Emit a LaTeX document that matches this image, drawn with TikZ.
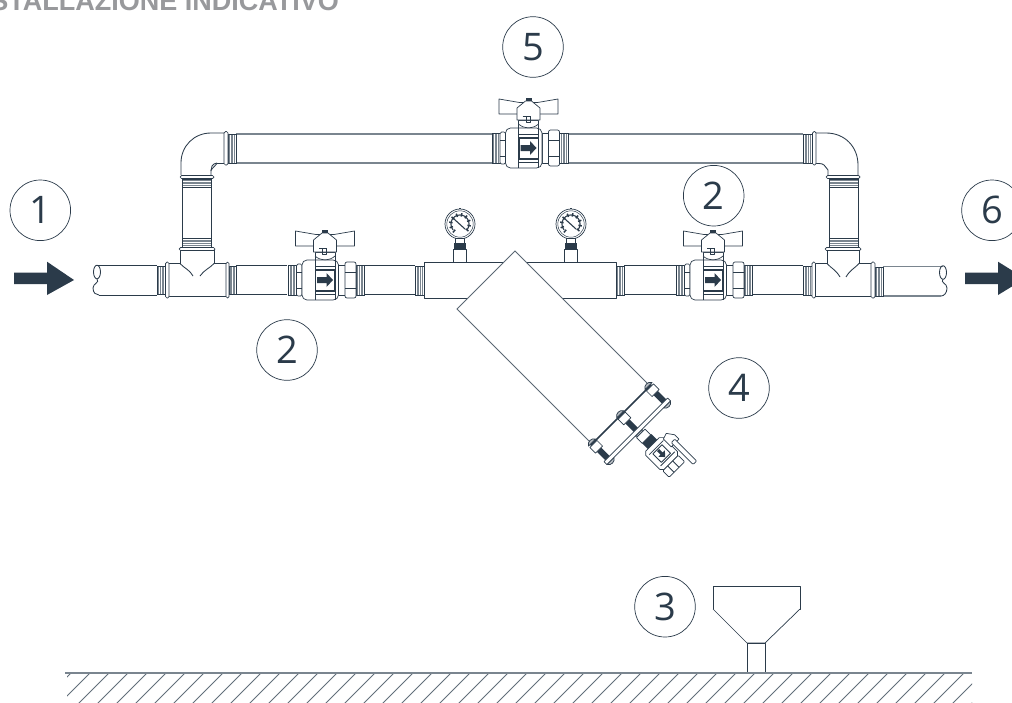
\documentclass[tikz,border=0pt]{standalone}
\usepackage{fontspec}
\setmainfont{Open Sans}
\newfontfamily\titlefont{Liberation Sans}
\definecolor{ink}{HTML}{2B3B4A}
\definecolor{pipegray}{HTML}{7A858F}
\definecolor{titlegray}{HTML}{98999C}
\tikzset{
  pipeline/.style={draw=ink,line width=0.85pt,line join=round},
  greyline/.style={draw=pipegray,line width=1.1pt},
  thin part/.style={draw=ink,line width=0.7pt,fill=white,line join=round},
  darkfill/.style={fill=ink,draw=none},
  callout/.style={circle,draw=ink,line width=0.7pt,minimum size=60.6pt,inner sep=0pt,font=\fontsize{38}{38}\selectfont,text=ink},
}
% threaded section: x1 x2 ytop ybottom, stripes vertical
\newcommand\thrV[4]{%
  \fill[white] (#1,#3) rectangle (#2,#4);
  \foreach \t in {0.22,0.4,0.6,0.78}{\draw[pipegray,line width=0.8pt] ({#1+(#2-#1)*\t},#3) -- ({#1+(#2-#1)*\t},#4);}
  \draw[ink,line width=0.8pt] (#1,#3) rectangle (#2,#4);}
% threaded section: x1 x2 ytop ybottom, stripes horizontal
\newcommand\thrH[4]{%
  \fill[white] (#1,#3) rectangle (#2,#4);
  \foreach \t in {0.22,0.4,0.6,0.78}{\draw[pipegray,line width=0.8pt] (#1,{#3+(#4-#3)*\t}) -- (#2,{#3+(#4-#3)*\t});}
  \draw[ink,line width=0.8pt] (#1,#3) rectangle (#2,#4);}
% ball valve centred on its arrow
\newcommand\ballvalve[2]{%
\begin{scope}[shift={(#1,#2)}]
  \thrV{-36.5}{-28.5}{-15}{15}
  \thrV{31}{39.5}{-15}{15}
  \draw[thin part,rounded corners=1.5pt] (-28.5,-16) rectangle (-23,16);
  \draw[pipeline] (-28.5,-8) -- (-23,-8) (-28.5,8) -- (-23,8);
  \draw[thin part] (13.5,-15) rectangle (20,15);
  \draw[thin part,rounded corners=2pt] (20,-18) rectangle (31,18);
  \draw[pipeline] (20,-8) -- (31,-8) (20,8) -- (31,8);
  \draw[thin part] (-10,-28) rectangle (10,-16);
  \draw[thin part,rounded corners=2pt] (-23,-17) -- (-20,-20) -- (10,-20) -- (13.5,-17) -- (13.5,17) -- (10,20) -- (-20,20) -- (-23,17) -- cycle;
  \draw[pipeline] (-10,-20) -- (-10,20) (10,-20) -- (10,20);
  \draw[pipeline] (-10,-14) rectangle (10,-11) (-10,11) rectangle (10,14);
  \draw[thin part] (-10,-24) .. controls (-5,-19) and (5,-19) .. (10,-24);
  \draw[line width=0.9pt,draw=ink] (-9.5,-10) rectangle (9.5,10);
  \fill[ink] (-8,-3) -- (1.5,-3) -- (1.5,-7) -- (8,0) -- (1.5,7) -- (1.5,3) -- (-8,3) -- cycle;
  \draw[thin part] (-29.5,-49) -- (-9,-45.5) -- (9,-45.5) -- (29.5,-49) -- (29.5,-34) -- (-29.5,-34) -- cycle;
  \draw[thin part] (-11.5,-40) -- (-3,-47) -- (3,-47) -- (11.5,-40) -- (11.5,-28) -- (-11.5,-28) -- cycle;
  \fill[ink] (-3,-50) rectangle (3,-47);
  \draw[pipeline] (-6,-32) -- (2,-32) (-2.5,-32) rectangle (1.5,-26);
\end{scope}}
% pressure gauge
\newcommand\gaugeat[1]{%
\begin{scope}[shift={(#1,224)}]
  \draw[thin part] (0,0) circle (15);
  \draw[pipeline,line width=0.5pt] (0,0) circle (13.2);
  \fill[ink] (-.8,-16.5) rectangle (.8,-15);
  \foreach \a in {-40,-10,...,230}{\draw[ink,line width=1.5pt] ({7.5*cos(\a)},{-7.5*sin(\a)}) -- ({11*cos(\a)},{-11*sin(\a)});}
  \draw[ink,line width=1.1pt] plot[domain=-40:220,samples=27,smooth] ({9*cos(\x)},{-9*sin(\x)});
  \draw[ink,line width=1.1pt] (-6,-5) -- (5,5);
  \draw[thin part] (-4.5,14.5) rectangle (4.5,19);
  \fill[ink] (-6,19) rectangle (6,25);
  \draw[thin part] (-6.5,25) rectangle (6.5,38);
\end{scope}}
\begin{document}
\begin{tikzpicture}[x=1pt,y=-1pt]
\useasboundingbox (0,0) rectangle (1012,702);
\fill[white] (0,0) rectangle (1012,702);
\clip (0,0) rectangle (1012,702);

% title
\node[anchor=base east,inner sep=0pt,text=titlegray,font=\titlefont\bfseries\fontsize{27}{27}\selectfont] (title) at (339,10) {STALLAZIONE INDICATIVO};

% entry / exit arrows
\fill[ink] (14,272.7) -- (47,272.7) -- (47,261.7) -- (74,280) -- (47,295) -- (47,284) -- (14,284) -- cycle;
\fill[ink] (965,272.7) -- (998,272.7) -- (998,261.7) -- (1025,278.5) -- (998,295) -- (998,284) -- (965,284) -- cycle;

% main line, pipes
\draw[pipeline] (97,265) -- (157,265) (99,295) -- (157,295);
\draw[pipeline] (97,272) ellipse (3.5 and 6.8);
\draw[pipeline] (97,279) .. controls (100,283) and (93,283) .. (93,288) .. controls (93,293) and (96,295) .. (99,295);
\draw[pipeline] (236,265) -- (287,265) (236,294) -- (287,294);
\draw[pipeline] (364,265) -- (415,265) (364,294) -- (415,294);
\draw[pipeline] (624,265) -- (680,265) (624,294) -- (680,294);
\draw[pipeline] (748,265) -- (803,265) (748,294) -- (803,294);
\draw[greyline] (883,266.5) -- (943,266.5) (883,296) -- (941,296);
\draw[pipeline] (943,272.5) ellipse (3.5 and 6.8);
\draw[pipeline] (943,279) .. controls (940,283) and (947,283) .. (947,288) .. controls (947,293) and (944,296) .. (941,296);

% by-pass pipes
\draw[greyline] (236,134) -- (492,134) (236,163) -- (492,163);
\draw[greyline] (568,134) -- (803,134) (568,163) -- (803,163);
\draw[pipeline] (182,187) -- (182,238) (211,187) -- (211,238);
\draw[pipeline] (829,187) -- (829,238) (858,187) -- (858,238);

% threads
\thrV{157}{165.5}{266}{294}
\thrV{229}{236}{266}{294}
\thrV{415}{424}{266}{295}
\thrV{616}{624}{266}{295}
\thrV{803}{812}{266}{295}
\thrV{875}{883}{267}{296}
\thrV{228}{236}{134}{163}
\thrV{803}{812}{134}{163}
\thrH{182}{211}{179}{187}
\thrH{182}{211}{238}{247}
\thrH{829}{858}{179}{187}
\thrH{829}{858}{238}{247}

% left tee
\draw[pipeline] (180,250) -- (180,263.5) (214,250) -- (214,263.5);
\draw[pipeline] (169,263.5) -- (180,263.5) (214,263.5) -- (226,263.5) (169,296) -- (226,296);
\draw[pipeline] (180,263.5) .. controls (184,268) and (190,270) .. (193,276);
\draw[pipeline] (214,263.5) .. controls (210,268) and (204,270) .. (200,276);
\draw[thin part,rounded corners=1.5pt] (165.5,262) rectangle (169,298);
\draw[thin part,rounded corners=1.5pt] (226,262) rectangle (229,298);
\draw[thin part,rounded corners=1.5pt] (179,247.5) rectangle (215,250.5);
% left elbow
\draw[pipeline] (181,175) -- (181,163) .. controls (181,146) and (194,133) .. (211,133) -- (224,133);
\draw[pipeline] (211,175) -- (211,170) -- (217,163.5) -- (224,163.5);
\draw[pipeline] (211,171) -- (212,166) .. controls (213,164.5) and (215,163) .. (217,163);
\draw[thin part,rounded corners=1.5pt] (180,175.5) rectangle (214,178.5);
\draw[thin part,rounded corners=1.5pt] (224,131.5) rectangle (228,165);

% right tee
\draw[pipeline] (827,250) -- (827,263.5) (859,250) -- (859,263.5);
\draw[pipeline] (815,263.5) -- (827,263.5) (859,263.5) -- (871,263.5) (815,296) -- (871,296);
\draw[pipeline] (827,263.5) .. controls (831,268) and (836,270) .. (840,277);
\draw[pipeline] (859,263.5) .. controls (855,268) and (850,270) .. (846,277);
\draw[thin part,rounded corners=1.5pt] (812,262) rectangle (815.5,298);
\draw[thin part,rounded corners=1.5pt] (871,262) rectangle (875,298);
\draw[thin part,rounded corners=1.5pt] (825,247.5) rectangle (861,250.5);
% right elbow
\draw[pipeline] (858,175) -- (858,165) .. controls (858,147) and (845,133) .. (826,133) -- (816,133);
\draw[pipeline] (828,175) -- (828,170) -- (824,165) .. controls (823,164) and (821,163.5) .. (819,163.5) -- (816,163.5);
\draw[thin part,rounded corners=1.5pt] (826,175.5) rectangle (860,178.5);
\draw[thin part,rounded corners=1.5pt] (812.5,131.5) rectangle (816,165);

% valves
\ballvalve{325}{280}
\ballvalve{528.5}{148}
\ballvalve{713}{280}

% filter body and gauges
\gaugeat{460}
\gaugeat{571}
\draw[thin part,line width=0.9pt] (424,262) rectangle (616,298);
\fill[white] (592,444) -- (457,309) -- (515,251) -- (650,386) -- cycle;
\draw[draw=pipegray!60!ink,line width=0.9pt] (592,444) -- (457,309) -- (515,251) -- (650,386);

% diagonal end of the filter: u runs along the flange, v along the axis
\begin{scope}[shift={(621,415)},rotate=45]
  \foreach \u in {-40,0,40}{
    \fill[ink] (\u-3,9) rectangle (\u+3,21);
    \draw[thin part] (\u-5,1) rectangle (\u+5,9);
    \draw[thin part,fill=ink!35] (\u-5,-1) .. controls (\u-3,-5) and (\u+3,-5) .. (\u+5,-1) -- cycle;
    \draw[thin part,fill=ink!35] (\u-5,25) .. controls (\u-3,29) and (\u+3,29) .. (\u+5,25) -- cycle;
  }
  \fill[ink] (-43,-0.8) rectangle (43,0.8);
  \draw[thin part] (-45,21) rectangle (45,25);
  % outlet
  \draw[thin part] (-5,27) rectangle (7,35);
  \fill[ink] (-5,35) rectangle (8,43);
  \draw[thin part] (-8,43) -- (-11,46) -- (-11,66) -- (-8,69) -- (11,69) -- (14,66) -- (14,46) -- (11,43) -- cycle;
  \draw[pipeline] (-8,48) -- (12,48) (-8,64) -- (12,64);
  \draw[pipeline] (-5,50) rectangle (8,62);
  \fill[ink] (0,51) -- (3,51) -- (3,56) -- (6,56) -- (1.5,61) -- (-3,56) -- (0,56) -- cycle;
  \draw[thin part,rounded corners=1pt] (-10,69) rectangle (12,78);
  \draw[pipeline] (-3,69) -- (-3,78) (4,69) -- (4,78);
  % handle
  \draw[thin part] (13,47) -- (19,45) -- (24,52) -- (24,58) -- (13,58) -- cycle;
  \draw[thin part,rounded corners=1pt] (16,55) rectangle (21,86);
\end{scope}

% funnel and ground
\draw[thin part] (713,586) rectangle (800,609);
\fill[ink] (746,585.5) rectangle (767,587);
\draw[thin part] (713,609) -- (747,643) -- (765,643) -- (800,609);
\draw[thin part] (747,643) rectangle (765,673);
\begin{scope}
  \clip (67,673) rectangle (972,702);
  \foreach \k in {-1,...,48}{\draw[pipegray!70!ink,line width=0.8pt] ({90+19*\k},673) -- ({90+19*\k-32},705);}
\end{scope}
\fill[white] (964.5,673.5) -- (973,673.5) -- (973,681) -- cycle;
\draw[greyline] (65,673) -- (972,673);

% callouts
\node[callout] (n1) at (40.3,210.3) {1};
\node[callout] (n6) at (992,210.3) {6};
\node[callout] (n5) at (533,47) {5};
\node[callout,fill=none] (n2a) at (713.7,195.7) {2};
\node[callout] (n2b) at (287,350) {2};
\node[callout] (n4) at (739,388) {4};
\node[callout] (n3) at (665,606.7) {3};
\end{tikzpicture}
\end{document}
